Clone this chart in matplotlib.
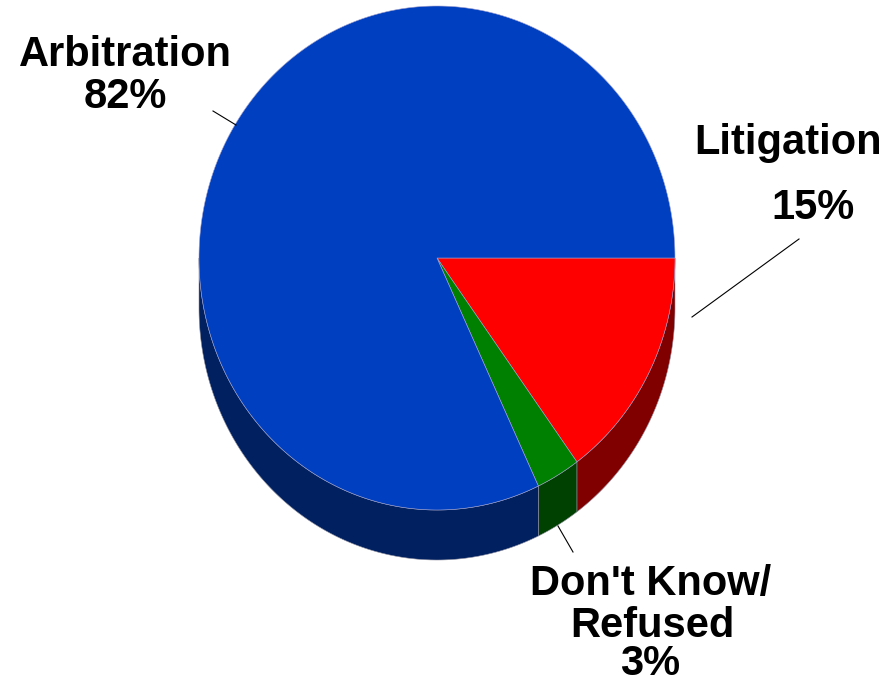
import numpy as np
import matplotlib
matplotlib.use("Agg")
import matplotlib.pyplot as plt
from matplotlib.patches import Polygon

# Data
categories = ["Litigation", "Don't Know/\nRefused", "Arbitration"]
values = [15, 3, 82]
labels = ["15%", "3%", "82%"]
top_colors = ["#FF0000", "#008000", "#0040C0"]
side_colors = ["#800000", "#004000", "#002060"]

W, H = 894, 684
fig = plt.figure(figsize=(W / 100, H / 100), dpi=100)
ax = fig.add_axes([0, 0, 1, 1])
ax.set_xlim(0, W)
ax.set_ylim(H, 0)
ax.axis("off")

cx, cy, rx, ry, depth = 437, 258, 238, 252, 50

fr = np.array(values, dtype=float) / sum(values)
bounds = np.concatenate([[0], -np.cumsum(fr) * 360])  # clockwise from 3 o'clock


def pt(t_deg):
    t = np.radians(t_deg)
    return cx + rx * np.cos(t), cy - ry * np.sin(t)


# side faces (front half: angles between -180 and 0)
for i in range(len(values)):
    a0, a1 = bounds[i], bounds[i + 1]
    lo, hi = max(a1, -180), min(a0, 0)
    if lo >= hi:
        continue
    ts = np.linspace(hi, lo, 200)
    xs, ys = pt(ts)
    poly = np.vstack([np.column_stack([xs, ys]),
                      np.column_stack([xs[::-1], ys[::-1] + depth])])
    ax.add_patch(Polygon(poly, closed=True, facecolor=side_colors[i],
                         edgecolor="#9090a0", linewidth=0.4, zorder=1))

# top faces
for i in range(len(values)):
    a0, a1 = bounds[i], bounds[i + 1]
    ts = np.linspace(a0, a1, 400)
    xs, ys = pt(ts)
    poly = np.vstack([[cx, cy], np.column_stack([xs, ys])])
    ax.add_patch(Polygon(poly, closed=True, facecolor=top_colors[i],
                         edgecolor="#a0a0d0", linewidth=0.4, zorder=2))

font = dict(family=["Liberation Sans", "DejaVu Sans"], fontsize=30,
            fontweight="bold", color="black", ha="center", va="baseline")

# Arbitration label
ax.text(125, 66, "Arbitration", **font)
ax.text(125, 108, labels[2], **font)
ax.plot([213, 236], [111, 125], color="black", lw=0.8)

# Litigation label
ax.text(788, 154, "Litigation", **font)
ax.text(813, 219, labels[0], **font)
ax.plot([799, 692], [239, 317], color="black", lw=0.8)

# Don't Know / Refused label
ax.text(651, 595, "Don't Know/", **font)
ax.text(652, 637, "Refused", **font)
ax.text(650, 675, labels[1], **font)
ax.plot([558, 573], [526, 552], color="black", lw=0.8)

fig.savefig("out.png", dpi=100)
